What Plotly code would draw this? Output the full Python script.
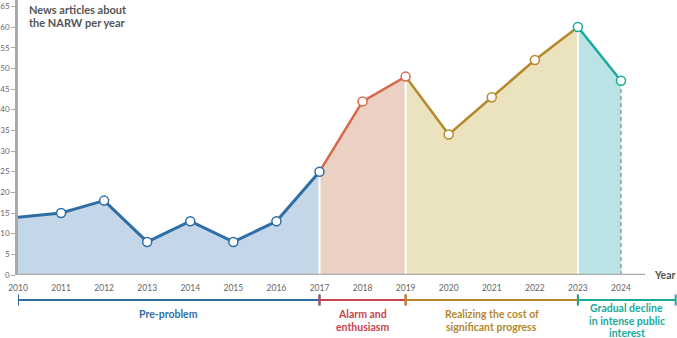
import plotly.graph_objects as go

# ---- data ----
years = list(range(2010, 2025))
articles = [14, 15, 18, 8, 13, 8, 13, 25, 42, 48, 34, 43, 52, 60, 47]

period_names = [["Pre-problem"], ["Alarm and", "enthusiasm"],
                ["Realizing the cost of", "significant progress"],
                ["Gradual decline", "in intense public", "interest"]]
period_start = [2010, 2017, 2019, 2023]
period_end = [2017, 2019, 2023, 2025.27]
line_colors = ["#2f6ea5", "#d8694a", "#b5882c", "#1aa99a"]
fill_colors = ["#c3d7e8", "#ebd1c4", "#ebe2be", "#bae3e5"]
period_colors = ["#2f6ea5", "#c8434f", "#b5882c", "#1aa99a"]
marker_groups = [[2011, 2012, 2013, 2014, 2015, 2016, 2017], [2018, 2019],
                 [2020, 2021, 2022], [2023, 2024]]
y_ticks = list(range(0, 70, 5))
title_lines = ["News articles about", "the NARW per year"]

W, H = 677, 338
FONT = "Lato"
GRAY = "#666666"

val = dict(zip(years, articles))
fig = go.Figure()

# fills
for i in range(4):
    xs = [y for y in years if period_start[i] <= y <= min(period_end[i], 2024)]
    fig.add_trace(go.Scatter(x=xs, y=[val[y] for y in xs], mode="none",
                             fill="tozeroy", fillcolor=fill_colors[i],
                             hoverinfo="skip", showlegend=False))
# white separators
for b in [2017, 2019, 2023]:
    fig.add_trace(go.Scatter(x=[b, b], y=[0, val[b]], mode="lines",
                             line=dict(color="white", width=2),
                             hoverinfo="skip", showlegend=False))
# dashed line at last year
fig.add_trace(go.Scatter(x=[2024, 2024], y=[0, val[2024]], mode="lines",
                         line=dict(color="#8f8f8f", width=1.3, dash="4px,3px"),
                         hoverinfo="skip", showlegend=False))
# colored lines
for i in range(4):
    xs = [y for y in years if period_start[i] <= y <= min(period_end[i], 2024)]
    fig.add_trace(go.Scatter(x=xs, y=[val[y] for y in xs], mode="lines",
                             line=dict(color=line_colors[i], width=3 if i == 0 else 2.5),
                             hoverinfo="skip", showlegend=False))
# markers
for i in range(4):
    xs = marker_groups[i]
    fig.add_trace(go.Scatter(x=xs, y=[val[y] for y in xs], mode="markers",
                             marker=dict(size=9, color="white",
                                         line=dict(color=line_colors[i], width=1.5)),
                             hoverinfo="skip", showlegend=False))

x0_px = 18
px_per_year = 43.07
x_max = 2010 + (W - x0_px) / px_per_year
y_bottom_px = 275
px_per_unit = 4.133
y_max = y_bottom_px / px_per_unit

shapes = []
# x axis line
shapes.append(dict(type="line", xref="x", yref="y", x0=2010, x1=2010 + (645 - x0_px) / px_per_year,
                   y0=0, y1=0, line=dict(color="#aaaaaa", width=2.5), layer="above"))


def py(px):
    return 1 - px / H


annotations = []
for i in range(4):
    shapes.append(dict(type="line", xref="x", yref="paper", x0=period_start[i], x1=period_end[i],
                       y0=py(300), y1=py(300), line=dict(color=period_colors[i], width=2)))
    for xx in (period_start[i], period_end[i]):
        shapes.append(dict(type="line", xref="x", yref="paper", x0=xx, x1=xx,
                           y0=py(294.5), y1=py(305.5), line=dict(color=period_colors[i], width=2)))
    first = 308 if i == 3 else 314
    for k, t in enumerate(period_names[i]):
        annotations.append(dict(xref="x", yref="paper", x=(period_start[i] + period_end[i]) / 2,
                                y=py(first + 12.7 * k), yanchor="middle", xanchor="center",
                                showarrow=False, text="<b>" + t + "</b>",
                                font=dict(family=FONT, size=10.5, color=period_colors[i])))

for k, t in enumerate(title_lines):
    annotations.append(dict(xref="paper", yref="paper", x=27 / W, y=py(9.5 + 12.5 * k),
                            xanchor="left", yanchor="middle", showarrow=False, align="left",
                            text="<b>" + t + "</b>",
                            font=dict(family=FONT, size=11, color="#555555")))
annotations.append(dict(xref="paper", yref="paper", x=652 / W, y=py(275), xanchor="left", yanchor="middle",
                        showarrow=False, text="<b>Year</b>",
                        font=dict(family=FONT, size=10.5, color="#555555")))

fig.update_layout(
    width=W, height=H, margin=dict(l=0, r=0, t=0, b=0),
    paper_bgcolor="white", plot_bgcolor="white",
    font=dict(family=FONT, size=8, color=GRAY),
    xaxis=dict(domain=[x0_px / W, 1], range=[2010, x_max], tickvals=years,
               ticktext=[str(y) for y in years], showgrid=False, zeroline=False,
               showline=False, ticks="", ticklabelstandoff=6, automargin=False,
               tickfont=dict(family=FONT, size=8.5, color=GRAY)),
    yaxis=dict(domain=[py(y_bottom_px), 1], range=[0, y_max], tickvals=y_ticks,
               showgrid=False, zeroline=False, showline=True, linecolor="#aaaaaa", linewidth=2.5,
               ticks="outside", ticklen=4, tickcolor="#aaaaaa", tickwidth=1,
               ticklabelstandoff=0, automargin=False,
               tickfont=dict(family=FONT, size=8, color=GRAY)),
    shapes=shapes, annotations=annotations,
)

fig.write_html("out.html")
